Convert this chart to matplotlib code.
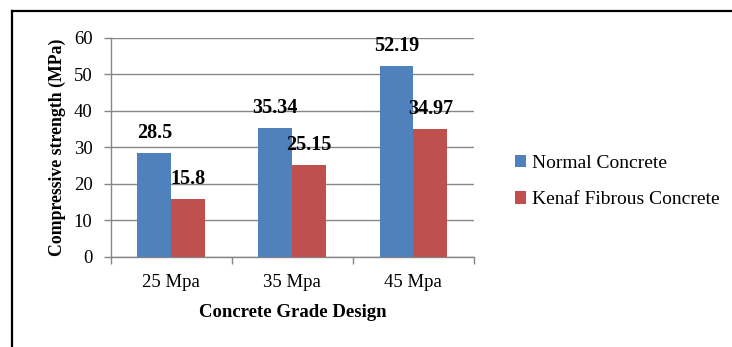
import matplotlib
matplotlib.use('Agg')
import matplotlib.pyplot as plt
from matplotlib.lines import Line2D
import numpy as np

plt.rcParams['font.family'] = ['Liberation Serif', 'DejaVu Serif']

# ===== data =====
grades = ["25 Mpa", "35 Mpa", "45 Mpa"]
normal = [28.5, 35.34, 52.19]
kenaf = [15.8, 25.15, 34.97]
series_names = ["Normal Concrete", "Kenaf Fibrous Concrete"]

blue = "#4F81BD"
red = "#C0504D"
grey = "#868686"

fig = plt.figure(figsize=(7.32, 3.47), dpi=100)
ax = fig.add_axes([0.1512, 0.2594, 0.4963, 0.632])

x = np.arange(len(grades))
w = 0.28
b1 = ax.bar(x - w / 2, normal, w, color=blue, label=series_names[0], zorder=3)
b2 = ax.bar(x + w / 2, kenaf, w, color=red, label=series_names[1], zorder=3)

# value labels above each bar
for bars, vals in ((b1, normal), (b2, kenaf)):
    for rect, v in zip(bars, vals):
        ax.annotate(f"{v:g}", (rect.get_x() + rect.get_width() / 2, v),
                    xytext=(0, 14.4), textcoords="offset points",
                    ha="center", va="center", fontsize=14.5, fontweight="bold",
                    zorder=4)

ax.set_xlim(-0.5, 2.5)
ax.set_ylim(0, 60)
ax.set_yticks(range(0, 61, 10))
ax.yaxis.grid(True, color=grey, linewidth=1.0, zorder=0)

ax.set_xticks(x)
ax.set_xticklabels(grades)
ax.set_xticks(np.arange(-0.5, 3, 1), minor=True)
ax.tick_params(axis="x", which="major", length=0, pad=12, labelsize=13.5)
ax.tick_params(axis="x", which="minor", length=5, width=1.0, color=grey)
ax.tick_params(axis="y", length=5, width=1.0, color=grey, pad=8, labelsize=13.5)

for s in ("top", "right"):
    ax.spines[s].set_visible(False)
for s in ("left", "bottom"):
    ax.spines[s].set_color(grey)
    ax.spines[s].set_linewidth(1.0)

ax.set_xlabel("Concrete Grade Design", fontsize=13.5, fontweight="bold", va="center")
ax.xaxis.set_label_coords(0.5, -0.254)
ax.set_ylabel("Compressive strength (MPa)", fontsize=12.8, fontweight="bold", va="center")
ax.yaxis.set_label_coords(-0.146, 0.5)

fig.legend(handles=[b1, b2], loc="center left",
           bbox_to_anchor=(497 / 732, 1 - 181.5 / 347), frameon=False,
           fontsize=14, handlelength=0.6, handleheight=0.6,
           handletextpad=0.3, labelspacing=1.0)

# outer frame
fx, fy = 11.5 / 732, 1 - 10.5 / 347
fig.add_artist(Line2D([fx, fx], [0, fy], transform=fig.transFigure, color="black", lw=1.6))
fig.add_artist(Line2D([fx, 1], [fy, fy], transform=fig.transFigure, color="black", lw=1.6))

fig.savefig("out.png", dpi=100)
